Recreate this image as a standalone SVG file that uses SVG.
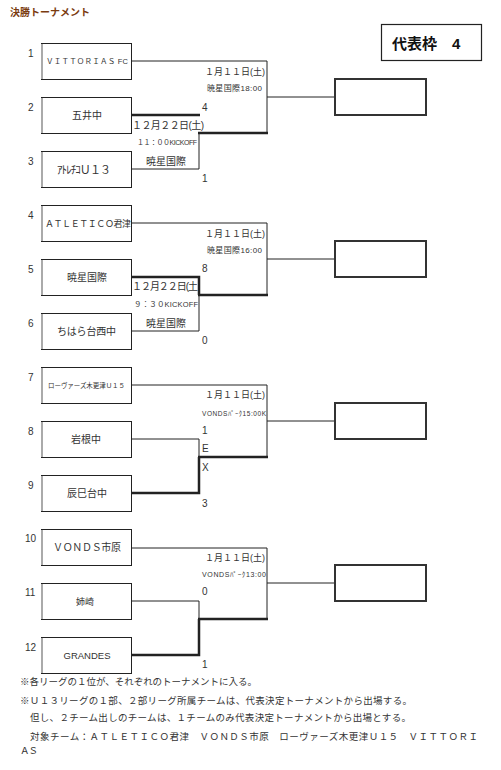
<svg xmlns="http://www.w3.org/2000/svg" width="501" height="770" viewBox="0 0 501 770">
<style>
text{font-family:"Liberation Sans","Noto Sans CJK JP",sans-serif;fill:#333}
.t{font-size:10px;text-anchor:middle}
.n{font-size:10px}
.d{font-size:9px}
.s{font-size:7.5px}
.f{font-size:9.5px}
.box{fill:#fff;stroke:#222;stroke-width:1}
.lb{stroke:#aaa;stroke-width:2}
.fin{fill:#fff;stroke:#333;stroke-width:2}
.thin{fill:none;stroke:#222;stroke-width:1}
.thick{fill:none;stroke:#222;stroke-width:2.5}
</style>
<rect width="501" height="770" fill="#fff"/>
<text x="10" y="16" style="font-size:10px;fill:#7a3b10;font-weight:bold" textLength="80">決勝トーナメント</text>
<g id="quota">
<rect x="381.5" y="24.5" width="100" height="36" fill="#fff" stroke="#222" stroke-width="1.2"/>
<text x="392" y="49" style="font-size:15px;font-weight:bold;fill:#111">代表枠　4</text>
</g>
<g id="connectors">
<!-- section 1 -->
<polyline class="thin" points="131,61 267,61 267,133"/>
<line class="thick" x1="198" y1="133" x2="268" y2="133"/>
<line class="thin" x1="267" y1="97" x2="335" y2="97"/>
<line class="thick" x1="131" y1="115" x2="200" y2="115"/>
<polyline class="thin" points="199,133 199,169 131,169"/>
<!-- section 2 -->
<polyline class="thin" points="131,223 267,223 267,295"/>
<line class="thick" x1="198" y1="295" x2="268" y2="295"/>
<line class="thin" x1="267" y1="259" x2="335" y2="259"/>
<polyline class="thick" points="131,277 199,277 199,295"/>
<polyline class="thin" points="199,295 199,331 131,331"/>
<!-- section 3 -->
<polyline class="thin" points="131,385 267,385 267,457"/>
<line class="thick" x1="198" y1="457" x2="268" y2="457"/>
<line class="thin" x1="267" y1="421" x2="335" y2="421"/>
<polyline class="thin" points="131,439 199,439 199,457"/>
<polyline class="thick" points="199,457 199,493 131,493"/>
<!-- section 4 -->
<polyline class="thin" points="131,548 267,548 267,619"/>
<line class="thick" x1="198" y1="619" x2="268" y2="619"/>
<line class="thin" x1="267" y1="583" x2="335" y2="583"/>
<polyline class="thin" points="131,601 199,601 199,619"/>
<polyline class="thick" points="199,619 199,655 131,655"/>
</g>
<g id="team1"><rect class="box" x="41.5" y="43.5" width="90" height="36"/><line class="lb" x1="42" y1="44" x2="42" y2="79"/><text x="28" y="57" class="n">1</text><text x="46" y="64" class="s" textLength="82">ＶＩＴＴＯＲＩＡＳ FC</text></g>
<g id="team2"><rect class="box" x="41.5" y="97.5" width="90" height="36"/><line class="lb" x1="42" y1="98" x2="42" y2="133"/><text x="28" y="111" class="n">2</text><text x="87" y="119" class="t">五井中</text></g>
<g id="team3"><rect class="box" x="41.5" y="151.5" width="90" height="36"/><line class="lb" x1="42" y1="152" x2="42" y2="187"/><text x="28" y="165" class="n">3</text><text x="57" y="174" style="font-size:11px" textLength="54">ｱﾄﾚﾁｺＵ１３</text></g>
<g id="team4"><rect class="box" x="41.5" y="205.5" width="90" height="36"/><line class="lb" x1="42" y1="206" x2="42" y2="241"/><text x="28" y="219" class="n">4</text><text x="45" y="226.5" style="font-size:9px" textLength="86">ＡＴＬＥＴＩＣＯ君津</text></g>
<g id="team5"><rect class="box" x="41.5" y="259.5" width="90" height="36"/><line class="lb" x1="42" y1="260" x2="42" y2="295"/><text x="28" y="273" class="n">5</text><text x="87" y="281" class="t">暁星国際</text></g>
<g id="team6"><rect class="box" x="41.5" y="313.5" width="90" height="36"/><line class="lb" x1="42" y1="314" x2="42" y2="349"/><text x="28" y="327" class="n">6</text><text x="57" y="335" style="font-size:10px" textLength="59">ちはら台西中</text></g>
<g id="team7"><rect class="box" x="41.5" y="367.5" width="90" height="36"/><line class="lb" x1="42" y1="368" x2="42" y2="403"/><text x="28" y="381" class="n">7</text><text x="48" y="388" style="font-size:6.5px" textLength="77">ローヴァーズ木更津Ｕ１５</text></g>
<g id="team8"><rect class="box" x="41.5" y="421.5" width="90" height="36"/><line class="lb" x1="42" y1="422" x2="42" y2="457"/><text x="28" y="435" class="n">8</text><text x="86" y="443" class="t">岩根中</text></g>
<g id="team9"><rect class="box" x="41.5" y="475.5" width="90" height="36"/><line class="lb" x1="42" y1="476" x2="42" y2="511"/><text x="28" y="489" class="n">9</text><text x="87" y="497" class="t">辰巳台中</text></g>
<g id="team10"><rect class="box" x="41.5" y="529.5" width="90" height="36"/><line class="lb" x1="42" y1="530" x2="42" y2="565"/><text x="25" y="542" class="n">10</text><text x="53" y="551" style="font-size:10px" textLength="68">ＶＯＮＤＳ市原</text></g>
<g id="team11"><rect class="box" x="41.5" y="583.5" width="90" height="36"/><line class="lb" x1="42" y1="584" x2="42" y2="619"/><text x="25" y="596" class="n">11</text><text x="85" y="605" class="t" style="font-size:9px">姉崎</text></g>
<g id="team12"><rect class="box" x="41.5" y="637.5" width="90" height="36"/><line class="lb" x1="42" y1="638" x2="42" y2="673"/><text x="25" y="651" class="n">12</text><text x="87" y="659" class="t" style="font-size:9.5px">GRANDES</text></g>
<g id="final1"><rect class="fin" x="335" y="79" width="91" height="36"/></g>
<g id="final2"><rect class="fin" x="335" y="241" width="91" height="36"/></g>
<g id="final3"><rect class="fin" x="335" y="403" width="91" height="36"/></g>
<g id="final4"><rect class="fin" x="335" y="565" width="91" height="36"/></g>
<g id="match-labels">
<text x="205" y="74.5" class="d" textLength="60">１月１１日(土)</text>
<text x="207" y="91" style="font-size:8px" textLength="55">暁星国際18:00</text>
<text x="202" y="111" class="n">4</text>
<text x="202" y="182" class="n">1</text>
<text x="132" y="129" style="font-size:10px" textLength="72">１２月２２日(土)</text>
<text x="137" y="145" style="font-size:7px" textLength="60">１１：００KICKOFF</text>
<text x="146" y="165" style="font-size:10px" textLength="40">暁星国際</text>
<text x="205" y="236.5" class="d" textLength="60">１月１１日(土)</text>
<text x="207" y="253" style="font-size:8px" textLength="55">暁星国際16:00</text>
<text x="202" y="272" class="n">8</text>
<text x="202" y="344" class="n">0</text>
<text x="132" y="290" style="font-size:10px" textLength="66">１２月２２日(土</text>
<text x="134" y="307" style="font-size:7.5px" textLength="64">９：３０KICKOFF</text>
<text x="146" y="327" style="font-size:10px" textLength="40">暁星国際</text>
<text x="205" y="398" class="d" textLength="60">１月１１日(土)</text>
<text x="202" y="415.5" style="font-size:6.5px" textLength="64">VONDSﾊﾟｰｸ15:00K</text>
<text x="202" y="434" class="n">1</text>
<text x="202" y="452" class="n">E</text>
<text x="202" y="471" class="n">X</text>
<text x="202" y="507" class="n">3</text>
<text x="205" y="560.5" class="d" textLength="60">１月１１日(土)</text>
<text x="202" y="577" style="font-size:7px" textLength="64">VONDSﾊﾟｰｸ13:00</text>
<text x="202" y="595" class="n">0</text>
<text x="202" y="668" class="n">1</text>
</g>
<g id="notes">
<text x="20" y="684.5" class="f" textLength="237">※各リーグの１位が、それぞれのトーナメントに入る。</text>
<text x="20" y="703.5" class="f" textLength="392">※Ｕ１３リーグの１部、２部リーグ所属チームは、代表決定トーナメントから出場する。</text>
<text x="30" y="721" class="f" textLength="381">但し、２チーム出しのチームは、１チームのみ代表決定トーナメントから出場とする。</text>
<text x="30" y="739.5" class="f" textLength="448">対象チーム：ＡＴＬＥＴＩＣＯ君津　ＶＯＮＤＳ市原　ローヴァーズ木更津Ｕ１５　ＶＩＴＴＯＲＩ</text>
<text x="20" y="754" class="f" textLength="18">ＡＳ</text>
</g>
</svg>
